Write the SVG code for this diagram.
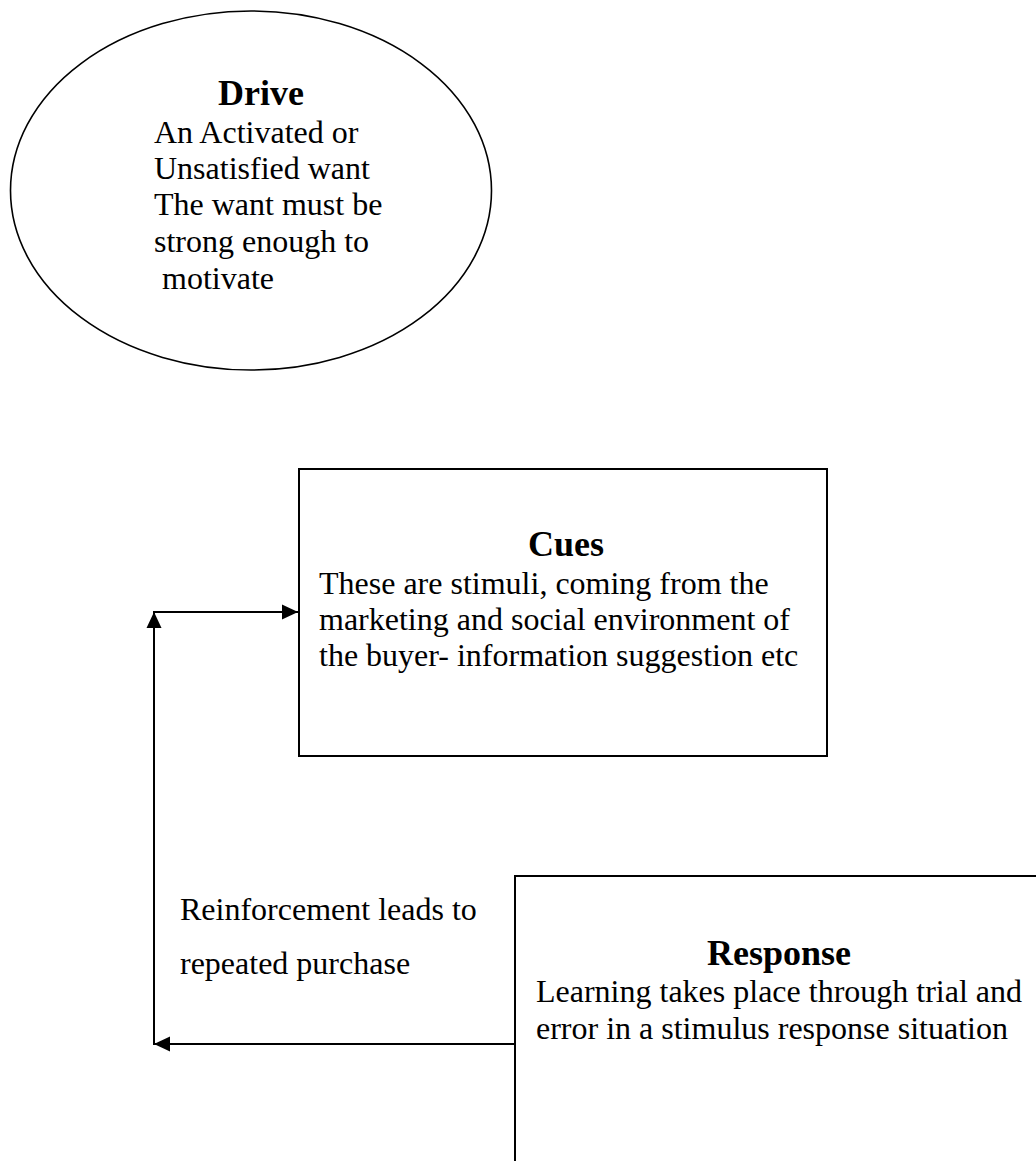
<svg xmlns="http://www.w3.org/2000/svg" width="1036" height="1161" viewBox="0 0 1036 1161">
  <style>
    .shape { fill: #ffffff; stroke: #000000; }
    .title { font-family: "Liberation Serif", "Times New Roman", serif; font-size: 36px; font-weight: bold; fill: #000000; text-anchor: middle; }
    .body { font-family: "Liberation Serif", "Times New Roman", serif; font-size: 32px; fill: #000000; }
    .link { fill: none; stroke: #000000; stroke-width: 2; }
  </style>
  <defs>
    <marker id="arrow" markerUnits="userSpaceOnUse" markerWidth="16" markerHeight="16" viewBox="0 0 16 16" refX="16" refY="8" orient="auto">
      <path d="M0,0.5 L16,8 L0,15.5 Z" fill="#000000"/>
    </marker>
  </defs>

  <rect width="1036" height="1161" fill="#ffffff"/>

  <!-- Drive -->
  <g id="drive">
    <ellipse class="shape" cx="251" cy="190.5" rx="240.5" ry="179.5" stroke-width="1.6"/>
    <text class="title" x="261" y="105">Drive</text>
    <text class="body" x="154" y="143">An Activated or</text>
    <text class="body" x="154" y="179">Unsatisfied want</text>
    <text class="body" x="154" y="215">The want must be</text>
    <text class="body" x="154" y="252">strong enough to</text>
    <text class="body" x="162" y="289">motivate</text>
  </g>

  <!-- Cues -->
  <g id="cues">
    <rect class="shape" x="299" y="469" width="528" height="287" stroke-width="2"/>
    <text class="title" x="566" y="556">Cues</text>
    <text class="body" x="319" y="594">These are stimuli, coming from the</text>
    <text class="body" x="319" y="630">marketing and social environment of</text>
    <text class="body" x="319" y="666">the buyer- information suggestion etc</text>
  </g>

  <!-- Response (runs past the page edge) -->
  <g id="response">
    <rect class="shape" x="515" y="876" width="560" height="320" stroke-width="2"/>
    <text class="title" x="779" y="965">Response</text>
    <text class="body" x="536" y="1002">Learning takes place through trial and</text>
    <text class="body" x="536" y="1039">error in a stimulus response situation</text>
  </g>

  <!-- Feedback loop from Response back to Cues -->
  <g id="connectors">
    <path class="link" d="M515,1044 H154" marker-end="url(#arrow)"/>
    <path class="link" d="M154,1045 V612" marker-end="url(#arrow)"/>
    <path class="link" d="M153,612 H298" marker-end="url(#arrow)"/>
  </g>

  <g id="loop-label">
    <text class="body" x="180" y="920">Reinforcement leads to</text>
    <text class="body" x="180" y="974">repeated purchase</text>
  </g>
</svg>
